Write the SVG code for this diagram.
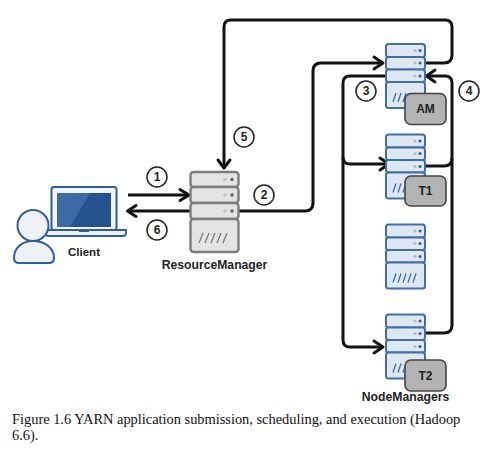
<svg xmlns="http://www.w3.org/2000/svg" width="502" height="451" viewBox="0 0 502 451">
<style>
text{font-family:"Liberation Sans",Arial,sans-serif;fill:#222}
.lbl{font-size:12.2px;font-weight:bold;text-anchor:middle}
.cap{font-family:"Liberation Serif","Times New Roman",serif;font-size:14.4px;fill:#111}
.con{fill:none;stroke:#111;stroke-width:3;stroke-linejoin:round}
.ah{fill:none;stroke:#111;stroke-width:3;stroke-linecap:round;stroke-linejoin:round}
.num circle{fill:#fff;stroke:#222;stroke-width:1.5}
.num text{font-size:12px;font-weight:bold;text-anchor:middle}
#bs rect{fill:#dfe7f2;stroke:#3f6fa8;stroke-width:2}
#bs .s{stroke:#3f6fa8;stroke-width:1.3;fill:none}
#bs .d1{fill:#a9bbd6}
#bs .d2{fill:#2f5f9a}
.gr rect{fill:#e4e4e4;stroke:#7d7d7d;stroke-width:2.4}
.gr .s{stroke:#7d7d7d;stroke-width:1.3;fill:none}
.gr .d1{fill:#bdbdbd}
.gr .d2{fill:#6a6a6a}
.tag rect{fill:#b3b3b3;stroke:#444;stroke-width:1.6}
.tag text{font-size:12px;font-weight:bold;text-anchor:middle}
</style>
<defs>
<g id="bs">
<rect x="0" y="0" width="39" height="13" rx="2.5"/>
<rect x="0" y="13" width="39" height="12.5" rx="2.5"/>
<rect x="0" y="25.5" width="39" height="12.5" rx="2.5"/>
<rect x="0" y="38" width="39" height="26" rx="2.5"/>
<circle class="d1" cx="29" cy="6.5" r="1.5"/><circle class="d2" cx="34" cy="6.5" r="1.5"/>
<circle class="d1" cx="29" cy="19" r="1.5"/><circle class="d2" cx="34" cy="19" r="1.5"/>
<circle class="d1" cx="29" cy="32" r="1.5"/><circle class="d2" cx="34" cy="32" r="1.5"/>
<path class="s" d="M7,58 L10,49 M12,58 L15,49 M17,58 L20,49 M22,58 L25,49 M27,58 L30,49"/>
</g>
</defs>
<g id="connectors">
<path class="con" d="M425,63 H444 Q452,63 452,55 V27 Q452,20 445,20 H231 Q224,20 224,27 V167"/>
<path class="ah" d="M218,160 L224,168 L230,160"/>
<path class="con" d="M128,195 H188"/>
<path class="ah" d="M180,189.500 L189,195 L180,200.500"/>
<path class="con" d="M190,211 H129"/>
<path class="ah" d="M136,205.500 L127.500,211 L136,216.500"/>
<path class="con" d="M239,211 H305 Q313,211 313,203 V71 Q313,63 321,63 H382"/>
<path class="ah" d="M374,57 L383,63 L374,69"/>
<path class="con" d="M386,76 H350 Q343,76 343,83 V340 Q343,347 350,347 H382"/>
<path class="ah" d="M374,341 L383,347 L374,353"/>
<path class="con" d="M343,157 Q343,164 350,164 H388"/>
<path class="ah" d="M380,158 L389,164 L380,170"/>
<path class="con" d="M425,333 H444 Q452,333 452,325 V83 Q452,76 445,76 H428"/>
<path class="ah" d="M435,70 L426.500,76 L435,82"/>
<path class="con" d="M425,166 H444 Q452,166 452,158"/>
</g>
<g id="client">
<path d="M46,230 H126 V233 Q126,236 123,236 H48 Q46,236 46,234 Z" fill="#eef2f7" stroke="#2f5f94" stroke-width="1.8"/>
<rect x="51.500" y="187" width="65" height="43" rx="2.500" fill="#f2f5f9" stroke="#2f5f94" stroke-width="2"/>
<rect x="57" y="193" width="54" height="34" fill="#24528f"/>
<path d="M57,227 V193 H90 L70,227 Z" fill="#3c6aa3"/>
<rect x="79" y="230" width="10" height="2" fill="#2f5f94"/>
<path d="M14,258 C14,248 22,241 33,241 C45,241 54,248 54,258 Q54,263 49,263 H19 Q14,263 14,258 Z" fill="#eef2f7" stroke="#2f5f94" stroke-width="2"/>
<circle cx="33" cy="225.500" r="15.500" fill="#eef2f7" stroke="#2f5f94" stroke-width="2"/>
<text class="lbl" x="84" y="256" style="font-size:11.5px">Client</text>
</g>
<g id="resource-manager" class="gr">
<rect x="190.500" y="172" width="48" height="15" rx="3"/>
<rect x="190.500" y="187" width="48" height="16" rx="3"/>
<rect x="190.500" y="203" width="48" height="16" rx="3"/>
<rect x="190.500" y="219" width="48" height="33" rx="3"/>
<circle class="d1" cx="225" cy="179.500" r="1.800"/><circle class="d2" cx="232" cy="179.500" r="1.800"/>
<circle class="d1" cx="225" cy="195" r="1.800"/><circle class="d2" cx="232" cy="195" r="1.800"/>
<circle class="d1" cx="225" cy="211" r="1.800"/><circle class="d2" cx="232" cy="211" r="1.800"/>
<path class="s" d="M199,243 L203,233 M205,243 L209,233 M211,243 L215,233 M217,243 L221,233 M223,243 L227,233"/>
<text class="lbl" x="214.500" y="269">ResourceManager</text>
</g>
<g id="node-am" transform="translate(386,44)"><use href="#bs"/></g>
<g id="tag-am" class="tag"><rect x="405" y="93.500" width="41" height="31" rx="6"/><text x="425.500" y="113">AM</text></g>
<g id="node-t1" transform="translate(386,134.500)"><use href="#bs"/></g>
<g id="tag-t1" class="tag"><rect x="405" y="176" width="41" height="30" rx="6"/><text x="425.500" y="195">T1</text></g>
<g id="node-mid" transform="translate(386,224.500)"><use href="#bs"/></g>
<g id="node-t2" transform="translate(386,314.500)"><use href="#bs"/></g>
<g id="tag-t2" class="tag"><rect x="405" y="360" width="41" height="31" rx="6"/><text x="425.500" y="380">T2</text></g>
<text class="lbl" x="405.500" y="401">NodeManagers</text>
<g class="num" id="n1"><circle cx="157" cy="177" r="10"/><text x="157" y="181">1</text></g>
<g class="num" id="n2"><circle cx="264" cy="195" r="10"/><text x="264" y="199">2</text></g>
<g class="num" id="n3"><circle cx="366" cy="91" r="10"/><text x="366" y="95">3</text></g>
<g class="num" id="n4"><circle cx="469" cy="91" r="10"/><text x="469" y="95">4</text></g>
<g class="num" id="n5"><circle cx="244" cy="137" r="10"/><text x="244" y="141">5</text></g>
<g class="num" id="n6"><circle cx="157" cy="230" r="10"/><text x="157" y="234">6</text></g>
<text class="cap" x="12" y="424">Figure 1.6 YARN application submission, scheduling, and execution (Hadoop</text>
<text class="cap" x="12" y="440">6.6).</text>
</svg>
